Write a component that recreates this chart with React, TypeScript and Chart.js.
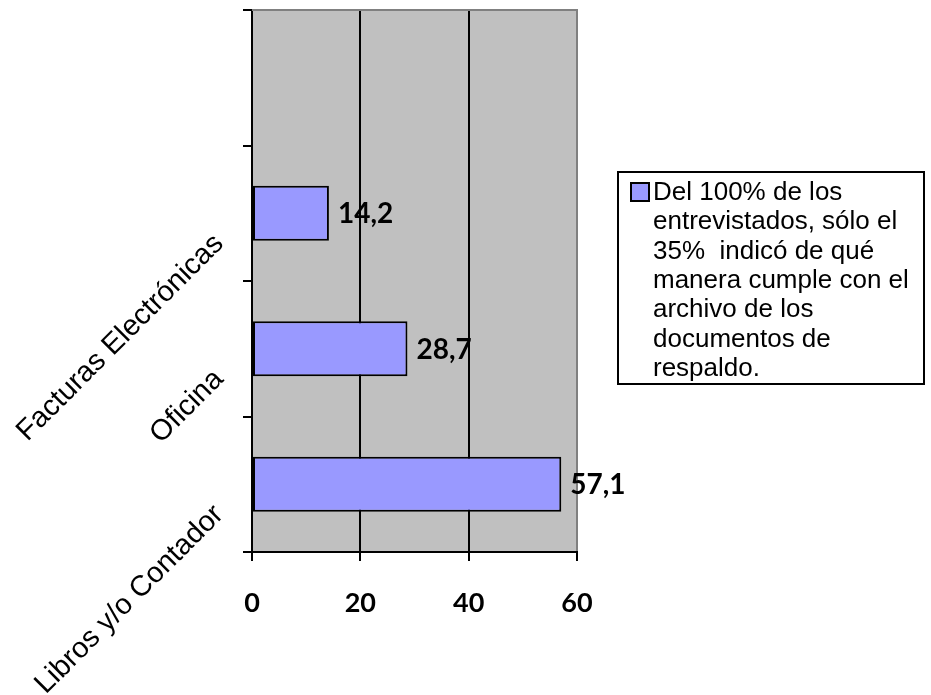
import React, { useEffect, useRef } from 'react';
import { Chart, registerables } from 'chart.js';

Chart.register(...registerables);

const categories: string[] = ['', 'Facturas Electrónicas', 'Oficina', 'Libros y/o Contador'];
const values: (number | null)[] = [null, 14.2, 28.7, 57.1];
const xTicks: number[] = [0, 20, 40, 60];
const legendLines: string[] = [
  'Del 100% de los',
  'entrevistados, sólo el',
  '35%  indicó de qué',
  'manera cumple con el',
  'archivo de los',
  'documentos de',
  'respaldo.',
];
const seriesLabel = legendLines.join(' ');

const BAR_FILL = '#9999FF';
const PLOT_BG = '#C0C0C0';
const LABEL_FONT = '"Liberation Sans", Arial, sans-serif';
const BOLD_FONT = 'Lato, "Liberation Sans", sans-serif';

const fmt = (v: number) => v.toFixed(1).replace('.', ',');

const backgroundPlugin = {
  id: 'plotBackground',
  beforeDraw(chart: any) {
    const { ctx, chartArea, width, height } = chart;
    ctx.save();
    ctx.fillStyle = '#ffffff';
    ctx.fillRect(0, 0, width, height);
    ctx.fillStyle = PLOT_BG;
    ctx.fillRect(chartArea.left, chartArea.top, chartArea.right - chartArea.left, chartArea.bottom - chartArea.top);
    ctx.restore();
  },
  afterDraw(chart: any) {
    const { ctx, chartArea } = chart;
    ctx.save();
    ctx.strokeStyle = '#808080';
    ctx.lineWidth = 2;
    ctx.beginPath();
    ctx.moveTo(chartArea.left, chartArea.top);
    ctx.lineTo(chartArea.right + 1, chartArea.top);
    ctx.stroke();
    ctx.restore();
  },
};

const valueLabelPlugin = {
  id: 'valueLabels',
  afterDatasetsDraw(chart: any) {
    const { ctx } = chart;
    const meta = chart.getDatasetMeta(0);
    ctx.save();
    ctx.font = `bold 28px ${BOLD_FONT}`;
    ctx.fillStyle = '#000000';
    ctx.textAlign = 'left';
    ctx.textBaseline = 'middle';
    meta.data.forEach((bar: any, i: number) => {
      const v = values[i];
      if (v == null) return;
      ctx.fillText(fmt(v), bar.x + 9, bar.y + 1);
    });
    ctx.restore();
  },
};

const legendPlugin = {
  id: 'boxLegend',
  afterDraw(chart: any) {
    const { ctx } = chart;
    const ds = chart.data.datasets[0];
    const x0 = 618;
    const y0 = 172;
    const w = 306;
    const h = 212;
    ctx.save();
    ctx.fillStyle = '#ffffff';
    ctx.fillRect(x0, y0, w, h);
    ctx.strokeStyle = '#000000';
    ctx.lineWidth = 2;
    ctx.strokeRect(x0, y0, w, h);
    ctx.fillStyle = ds.backgroundColor;
    ctx.fillRect(631, 183, 18, 18);
    ctx.strokeRect(631, 183, 18, 18);
    ctx.fillStyle = '#000000';
    ctx.font = `26px ${LABEL_FONT}`;
    ctx.textAlign = 'left';
    ctx.textBaseline = 'middle';
    legendLines.forEach((line, i) => {
      ctx.fillText(line, 653, 193 + i * 29.3);
    });
    ctx.restore();
  },
};

export default function App() {
  const canvasRef = useRef<HTMLCanvasElement | null>(null);

  useEffect(() => {
    if (!canvasRef.current) return;
    const chart = new Chart(canvasRef.current, {
      type: 'bar',
      data: {
        labels: categories,
        datasets: [
          {
            label: seriesLabel,
            data: values as any,
            backgroundColor: BAR_FILL,
            borderColor: '#000000',
            borderWidth: 2,
            borderSkipped: false,
            categoryPercentage: 1,
            barPercentage: 0.406,
          },
        ],
      },
      options: {
        indexAxis: 'y',
        responsive: false,
        animation: false,
        devicePixelRatio: 1,
        layout: { padding: { top: 10, right: 354, left: 0, bottom: 0 } },
        plugins: {
          legend: { display: false },
          tooltip: { enabled: false },
        },
        scales: {
          x: {
            type: 'linear',
            min: 0,
            max: 60,
            afterBuildTicks: (s: any) => {
              s.ticks = xTicks.map((v) => ({ value: v }));
            },
            afterFit: (s: any) => {
              s.height = 143;
              s.paddingLeft = 0;
              s.paddingRight = 0;
            },
            border: { display: true, color: '#000000', width: 2 },
            grid: {
              display: true,
              drawOnChartArea: true,
              drawTicks: true,
              tickLength: 9,
              lineWidth: 2,
              color: (c: any) => (c.tick && c.tick.value === 60 ? '#808080' : '#000000'),
              tickColor: '#000000',
            },
            ticks: {
              color: '#000000',
              padding: 26,
              font: { family: BOLD_FONT, size: 27, weight: 'bold' },
              maxRotation: 0,
              minRotation: 0,
            },
          },
          y: {
            type: 'category',
            afterFit: (s: any) => {
              s.width = 252;
              s.paddingTop = 0;
              s.paddingBottom = 0;
            },
            border: { display: true, color: '#000000', width: 2 },
            grid: {
              display: true,
              offset: true,
              drawOnChartArea: false,
              drawTicks: true,
              tickLength: 9,
              lineWidth: 2,
              color: '#000000',
              tickColor: '#000000',
            },
            ticks: {
              color: '#000000',
              padding: 24,
              labelOffset: 26,
              minRotation: 45,
              maxRotation: 45,
              autoSkip: false,
              font: { family: LABEL_FONT, size: 29 },
            },
          },
        },
      },
      plugins: [backgroundPlugin, valueLabelPlugin, legendPlugin],
    });
    return () => chart.destroy();
  }, []);

  return (
    <div style={{ position: 'fixed', left: 0, top: 0, width: 931, height: 695, background: '#fff' }}>
      <canvas ref={canvasRef} width={931} height={695} style={{ display: 'block', width: 931, height: 695 }} />
    </div>
  );
}
